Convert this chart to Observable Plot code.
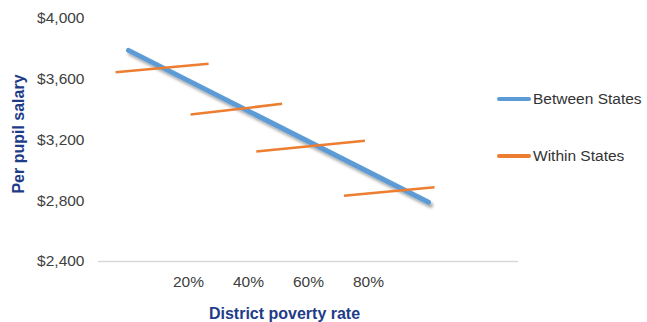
<!DOCTYPE html>
<html>
<head>
<meta charset="utf-8">
<script src="https://cdn.jsdelivr.net/npm/d3@7"></script>
<script src="https://cdn.jsdelivr.net/npm/@observablehq/plot@0.6"></script>
<style>
  body { margin: 0; background: #fff; }
  #wrap { position: relative; width: 647px; height: 322px; font-family: "Liberation Sans", Arial, sans-serif; }
  .leg { position: absolute; left: 497px; display: flex; align-items: center; font-size: 15.5px; color: #333; }
  .leg span.sw { display: inline-block; width: 34px; height: 4px; border-radius: 2px; margin-right: 2px; }
  .ytitle { position: absolute; left: 18.5px; top: 134px; transform: translate(-50%, -50%) rotate(-90deg); white-space: nowrap; font-size: 16px; font-weight: bold; color: #1F3C88; line-height: 1; }
</style>
</head>
<body>
<div id="wrap"></div>
<script>
// Data
const seriesNames = ["Between States", "Within States"];
const seriesColors = ["#5B9BD5", "#ED7D31"];
const betweenX = [0, 100];
const betweenY = [3790, 2790];
const withinX1 = [-4.3, 20.7, 42.6, 71.8];
const withinX2 = [26.7, 51.2, 78.8, 102];
const withinY1 = [3646, 3368, 3124, 2833];
const withinY2 = [3702, 3438, 3195, 2889];
const xTicks = [20, 40, 60, 80];
const yTicks = [2400, 2800, 3200, 3600, 4000];
const xTitle = "District poverty rate";
const yTitle = "Per pupil salary";

const between = betweenX.map((x, i) => ({x, y: betweenY[i]}));
const within = withinX1.map((x1, i) => ({x1, x2: withinX2[i], y1: withinY1[i], y2: withinY2[i]}));

const chart = Plot.plot({
  width: 647,
  height: 322,
  marginLeft: 98,
  marginRight: 129,
  marginTop: 18,
  marginBottom: 61,
  style: {fontFamily: "Liberation Sans, Arial, sans-serif", background: "#fff"},
  x: {domain: [-10, 130]},
  y: {domain: [2400, 4000]},
  marks: [
    Plot.ruleY([2400], {stroke: "#d9d9d9", strokeWidth: 1.5}),
    Plot.axisY({ticks: yTicks, tickFormat: d3.format("$,"), tickSize: 0, tickPadding: 14, fontSize: 15.5, color: "#404040", label: null}),
    Plot.axisX({ticks: xTicks, tickFormat: d => d + "%", tickSize: 0, tickPadding: 14, fontSize: 15.5, color: "#404040", label: null}),
    Plot.line(between, {x: "x", y: "y", stroke: seriesColors[0], strokeWidth: 5, strokeLinecap: "round"}),
    Plot.link(within, {x1: "x1", y1: "y1", x2: "x2", y2: "y2", stroke: seriesColors[1], strokeWidth: 2.5}),
    Plot.text([xTitle], {text: d => d, frameAnchor: "bottom", dx: -24, dy: 57, fontSize: 16, fontWeight: "bold", fill: "#1F3C88"})
  ]
});

// drop shadow on the between-states line
const svg = d3.select(chart);
const defs = svg.insert("defs", ":first-child");
const f = defs.append("filter").attr("id", "shadow").attr("x", "-20%").attr("y", "-20%").attr("width", "140%").attr("height", "140%");
f.append("feDropShadow").attr("dx", 2).attr("dy", 3).attr("stdDeviation", 1.8).attr("flood-color", "#000").attr("flood-opacity", 0.35);
svg.selectAll("path").filter(function() { return d3.select(this).attr("stroke") === seriesColors[0] || d3.select(this.parentNode).attr("stroke") === seriesColors[0]; }).attr("filter", "url(#shadow)");

const wrap = document.getElementById("wrap");
wrap.appendChild(chart);

const yt = document.createElement("div");
yt.className = "ytitle";
yt.textContent = yTitle;
wrap.appendChild(yt);

const legendY = [99, 156];
seriesNames.forEach((name, i) => {
  const d = document.createElement("div");
  d.className = "leg";
  d.style.top = (legendY[i] - 10) + "px";
  d.style.height = "20px";
  d.innerHTML = `<span class="sw" style="background:${seriesColors[i]}"></span>${name}`;
  wrap.appendChild(d);
});
</script>
</body>
</html>
